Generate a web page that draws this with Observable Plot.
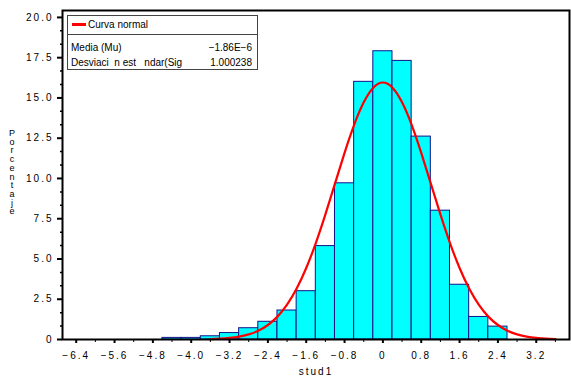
<!DOCTYPE html>
<html>
<head>
<meta charset="utf-8">
<script src="https://cdn.jsdelivr.net/npm/d3@7"></script>
<script src="https://cdn.jsdelivr.net/npm/@observablehq/plot@0.6"></script>
<style>
  html, body { margin: 0; padding: 0; background: white; }
  #wrap { position: relative; width: 571px; height: 380px; overflow: hidden; font-family: 'Liberation Sans', Arial, sans-serif; }
  #wrap svg text { letter-spacing: 2px; }
  #ylab { position: absolute; left: 6px; top: 128px; writing-mode: vertical-lr; text-orientation: upright; font-size: 9px; letter-spacing: -1.3px; line-height: 11px; color: #000; }
  #legend { position: absolute; left: 67px; top: 15px; width: 191px; height: 55px; box-sizing: border-box; border: 1px solid #444; background: #fff; font-size: 10px; color: #000; white-space: pre; }
  #legend .head { position: absolute; left: 0; top: 0; right: 0; height: 18px; border-bottom: 1px solid #444; }
  #legend .swatch { position: absolute; left: 4px; top: 7px; width: 14px; height: 3px; background: #ff0000; }
  #legend .t { position: absolute; line-height: 12px; }
</style>
</head>
<body>
<div id="wrap"></div>
<script>
// Histogram bins (bin centres, width 0.4) and percentages
const binCenters = [-4.4, -4.0, -3.6, -3.2, -2.8, -2.4, -2.0, -1.6, -1.2, -0.8, -0.4, 0.0, 0.4, 0.8, 1.2, 1.6, 2.0, 2.4];
const percents   = [ 0.1,  0.1,  0.2,  0.4,  0.7,  1.1,  1.8,  3.0,  5.8,  9.7, 16.0, 17.9, 17.3, 12.6,  8.0,  3.4,  1.4,  0.8];
const binWidth = 0.4;

// Normal curve (red) points
const curveX = [-3.6,-3.4,-3.2,-3.0,-2.8,-2.6,-2.4,-2.2,-2.0,-1.8,-1.6,-1.4,-1.2,-1.0,-0.8,-0.6,-0.4,-0.2,0.0,0.2,0.4,0.6,0.8,1.0,1.2,1.4,1.6,1.8,2.0,2.2,2.4,2.6,2.8,3.0,3.2,3.4,3.6];
const curveY = [0.02,0.05,0.10,0.18,0.32,0.54,0.90,1.42,2.16,3.16,4.44,5.99,7.77,9.68,11.59,13.33,14.73,15.64,15.96,15.64,14.73,13.33,11.59,9.68,7.77,5.99,4.44,3.16,2.16,1.42,0.90,0.54,0.32,0.18,0.10,0.05,0.02];

// Axis ticks
const xMajorTicks = [-6.4, -5.6, -4.8, -4.0, -3.2, -2.4, -1.6, -0.8, 0, 0.8, 1.6, 2.4, 3.2];
const xMinorTicks = [-6.0, -5.2, -4.4, -3.6, -2.8, -2.0, -1.2, -0.4, 0.4, 1.2, 2.0, 2.8, 3.6];
const yMajorTicks = [0, 2.5, 5, 7.5, 10, 12.5, 15, 17.5, 20];
const yMinorTicks = [0.8333, 1.6667, 3.3333, 4.1667, 5.8333, 6.6667, 8.3333, 9.1667, 10.8333, 11.6667, 13.3333, 14.1667, 15.8333, 16.6667, 18.3333, 19.1667];

// Legend texts
const legendTitle = "Curva normal";
const legendLabels = ["Media (Mu)", "Desviaci  n est   ndar(Sig"];
const legendValues = ["\u22121.86E\u22126", "1.000238"];
const xLabel = "stud1";
const yLabel = "Porcentaje";

const bins = binCenters.map((c, i) => ({x1: c - binWidth / 2, x2: c + binWidth / 2, pct: percents[i]}));
const curve = curveX.map((x, i) => ({x, y: curveY[i]}));

const fmt = d => d === 0 ? "0" : (d < 0 ? "\u2212" : "") + Math.abs(d).toFixed(1);

const chart = Plot.plot({
  width: 571,
  height: 380,
  marginLeft: 62,
  marginRight: 2,
  marginTop: 10,
  marginBottom: 41,
  x: {domain: [-6.686, 3.894]},
  y: {domain: [0, 20.43]},
  style: {fontFamily: "'Liberation Sans', Arial, sans-serif", fontSize: "10px", color: "black", background: "white"},
  marks: [
    Plot.rect(bins, {x1: "x1", x2: "x2", y1: 0, y2: "pct", fill: "#00ffff", stroke: "#12128a", strokeWidth: 1}),
    Plot.line(curve, {x: "x", y: "y", stroke: "#ff0000", strokeWidth: 2.2, curve: "natural"}),
    Plot.frame({stroke: "black", strokeWidth: 2}),
    Plot.axisX({ticks: xMajorTicks, tickSize: 4, strokeWidth: 2, tickPadding: 8, tickFormat: fmt,
      label: xLabel, labelAnchor: "center", labelArrow: "none", labelOffset: 35}),
    Plot.axisX({ticks: xMinorTicks, tickSize: 3, strokeWidth: 1, tickFormat: () => "", label: null}),
    Plot.axisY({ticks: yMajorTicks, tickSize: 5, strokeWidth: 2, tickPadding: 4, tickFormat: fmt, label: null}),
    Plot.axisY({ticks: yMinorTicks, tickSize: 2, strokeWidth: 1.5, tickFormat: () => "", label: null})
  ]
});

const wrap = document.getElementById("wrap");
wrap.appendChild(chart);

const yl = document.createElement("div");
yl.id = "ylab";
yl.textContent = yLabel;
wrap.appendChild(yl);

const lg = document.createElement("div");
lg.id = "legend";
lg.innerHTML = `<div class="head"><div class="swatch"></div><div class="t" style="left:20px;top:3px"></div></div>
  <div class="t" style="left:3px;top:26px"></div><div class="t" style="right:5px;top:26px"></div>
  <div class="t" style="left:3px;top:41px"></div><div class="t" style="right:5px;top:41px"></div>`;
const ts = lg.querySelectorAll(".t");
ts[0].textContent = legendTitle;
ts[1].textContent = legendLabels[0];
ts[2].textContent = legendValues[0];
ts[3].textContent = legendLabels[1];
ts[4].textContent = legendValues[1];
wrap.appendChild(lg);
</script>
</body>
</html>
